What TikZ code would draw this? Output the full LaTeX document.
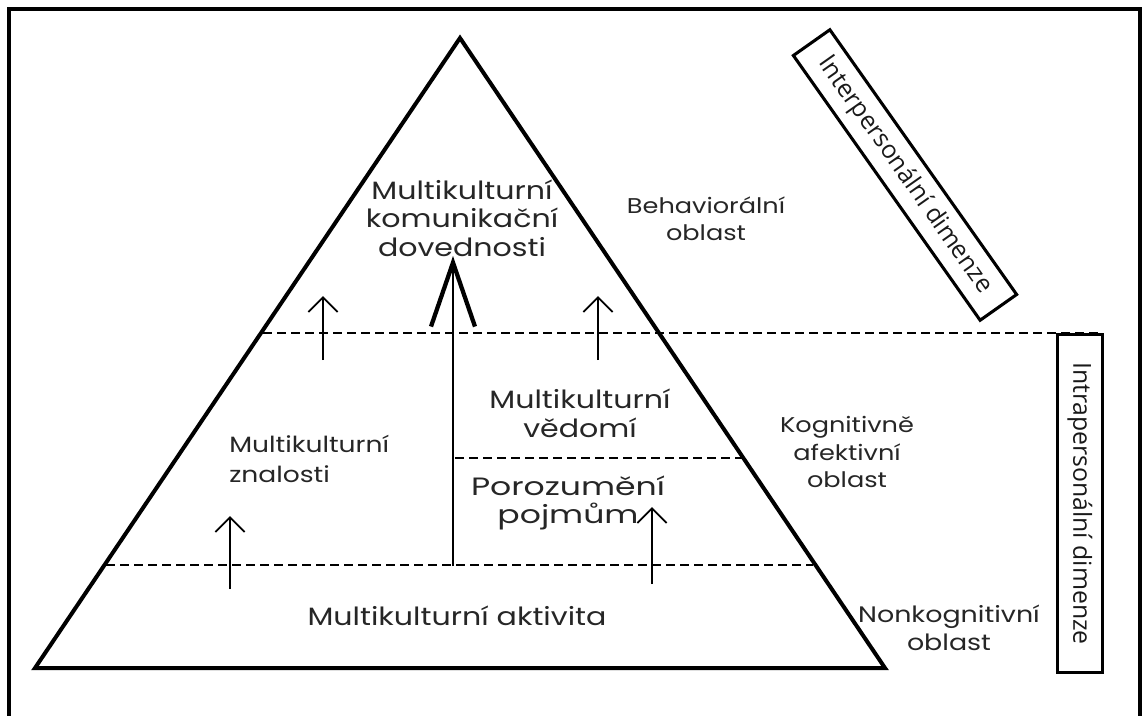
\documentclass[tikz,border=0pt]{standalone}
\usepackage{fontspec}
\setmainfont{Poppins}[FakeStretch=1.2]
\newfontfamily\boxfont{Open Sans}
\newfontfamily\widefont{Poppins}[FakeStretch=1.32]
\usetikzlibrary{arrows.meta}
\begin{document}
\begin{tikzpicture}[x=0.75pt,y=-0.75pt,
  lbl/.style={font=\fontsize{18.8}{21.5}\selectfont, align=center, inner sep=0pt, text=black!85},
  lbls/.style={font=\fontsize{16}{20.5}\selectfont, align=center, inner sep=0pt, text=black!85},
  dimbox/.style={draw, line width=2.3pt, inner sep=0pt, font=\boxfont\fontsize{18.6}{20}\selectfont, text=black!90},
  layer/.style={line width=2.1pt, dash pattern=on 6.5pt off 4pt},
  smallarrow/.style={line width=1.4pt, -{Straight Barb[length=11pt, width=22pt, line width=1.4pt]}},
  bigarrow/.style={line width=1.9pt, -{Straight Barb[length=48pt, width=33pt, line width=3.2pt]}}]
\useasboundingbox (0,0) rectangle (1146,715);
% frame
\draw[line width=3pt] (9,730) -- (9,9) -- (1140,9) -- (1140,730);
% pyramid
\coordinate (apex) at (460,38);
\coordinate (bl) at (35,668);
\coordinate (br) at (885,668);
\draw[line width=3pt, line join=miter] (apex) -- (bl) -- (br) -- cycle;
% layers
\coordinate (l1a) at (263,333);
\coordinate (l1b) at (1100,333);
\coordinate (l2a) at (106,565);
\coordinate (l2b) at (813,565);
\coordinate (l3a) at (455,458);
\coordinate (l3b) at (743,458);
\draw[layer] (l1a) -- (l1b);
\draw[layer] (l2a) -- (l2b);
\draw[layer] (l3a) -- (l3b);
% arrows
\coordinate (ba0) at (453,566);
\coordinate (ba1) at (453,256);
\draw[bigarrow] (ba0) -- (ba1);
\coordinate (a1s) at (323,360); \coordinate (a1e) at (323,296);
\coordinate (a2s) at (598,360); \coordinate (a2e) at (598,296);
\coordinate (a3s) at (230,589); \coordinate (a3e) at (230,516);
\coordinate (a4s) at (652,584); \coordinate (a4e) at (652,507);
\draw[smallarrow] (a1s) -- (a1e);
\draw[smallarrow] (a2s) -- (a2e);
\draw[smallarrow] (a3s) -- (a3e);
\draw[smallarrow] (a4s) -- (a4e);
% labels
\node[lbl] (mkd) at (462,218) {Multikulturní\\komunikační\\dovednosti};
\node[lbls] (beh) at (706,219) {Behaviorální\\oblast};
\node[lbl] (ved) at (580,413) {Multikulturní\\vědomí};
\node[lbls, font=\fontsize{16.6}{22}\selectfont, align=left, anchor=west] (zna) at (229,459) {Multikulturní\\znalosti};
\node[lbl, font=\widefont\fontsize{18.8}{21.5}\selectfont] (por) at (568,503) {Porozumění\\pojmům};
\node[lbls] (kog) at (847,452) {Kognitivně\\afektivní\\oblast};
\node[lbl] (akt) at (457,616) {Multikulturní aktivita};
\node[lbls, font=\fontsize{16.8}{21}\selectfont] (non) at (949,628) {Nonkognitivní\\oblast};
% dimension boxes
\node[dimbox, minimum width=243pt, minimum height=33.5pt, rotate=-54.8] (inter) at (905,175) {Interpersonální dimenze};
\node[dimbox, minimum width=253pt, minimum height=33.75pt, rotate=-90] (intra) at (1080,503.5) {Intrapersonální dimenze};
\end{tikzpicture}
\end{document}
